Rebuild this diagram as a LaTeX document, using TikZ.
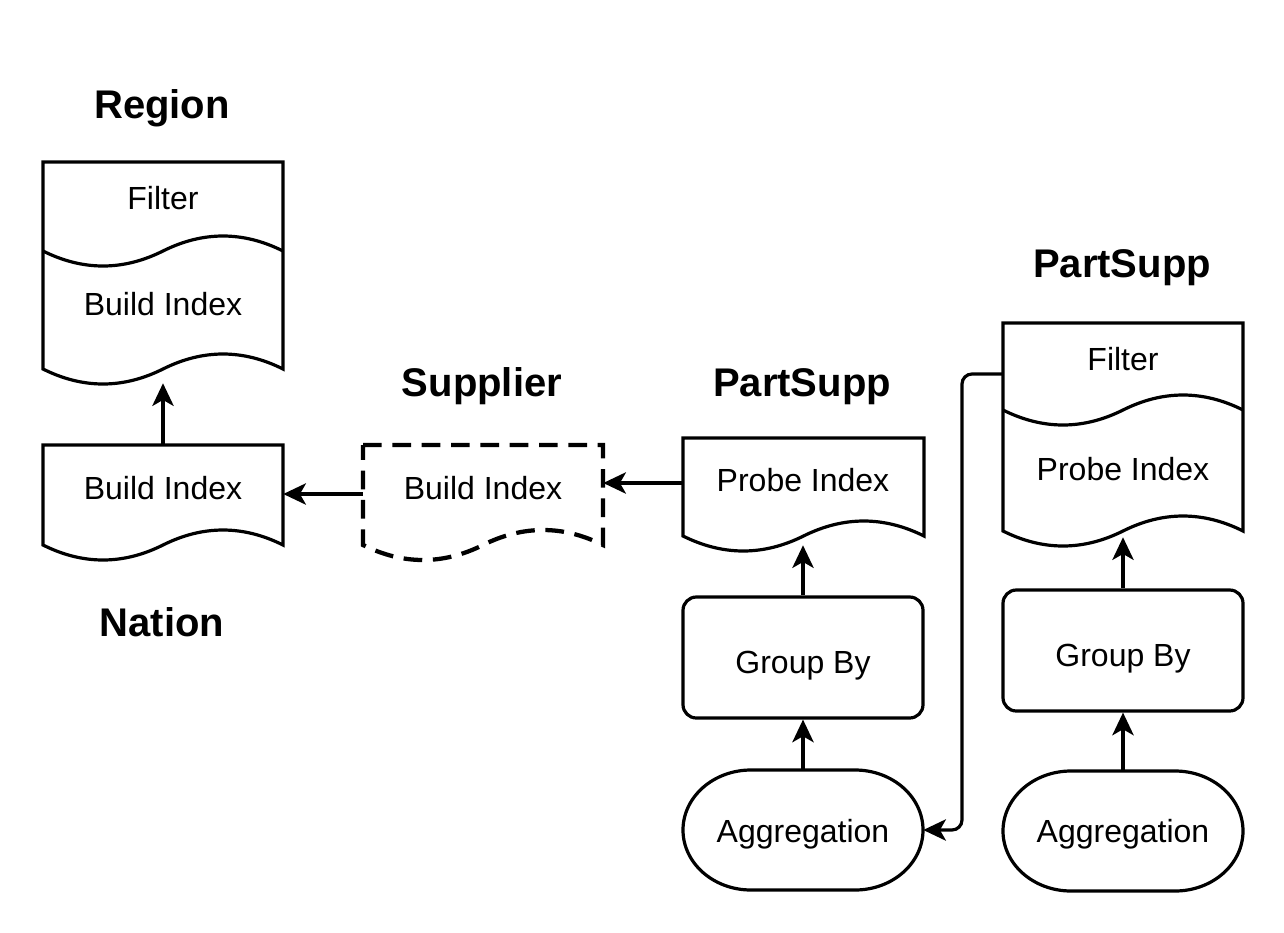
\documentclass[tikz,border=0pt]{standalone}
\usepackage{fontspec}
\setmainfont{Liberation Sans}
\usetikzlibrary{arrows.meta,fit,calc}

% document shape: [opts]{x0}{x1}{top}{edge}{amplitude}
\newcommand\dsDoc[6][]{%
 \pgfmathsetmacro\dsM{(#2+#3)/2}%
 \pgfmathsetmacro\dsLa{#2+(#3-#2)/6}%
 \pgfmathsetmacro\dsLb{#2+(#3-#2)/3}%
 \pgfmathsetmacro\dsRa{#3-(#3-#2)/6}%
 \pgfmathsetmacro\dsRb{#3-(#3-#2)/3}%
 \pgfmathsetmacro\dsD{#5+4*#6/3}%
 \pgfmathsetmacro\dsU{#5-4*#6/3}%
 \draw[shp,#1] (#2,#4) -- (#3,#4) -- (#3,#5)
   .. controls (\dsRa,\dsU) and (\dsRb,\dsU) .. (\dsM,#5)
   .. controls (\dsLb,\dsD) and (\dsLa,\dsD) .. (#2,#5) -- cycle;
}
% wave only: {x0}{x1}{edge}{amplitude}
\newcommand\dsWave[4]{%
 \pgfmathsetmacro\dsM{(#1+#2)/2}%
 \pgfmathsetmacro\dsLa{#1+(#2-#1)/6}%
 \pgfmathsetmacro\dsLb{#1+(#2-#1)/3}%
 \pgfmathsetmacro\dsRa{#2-(#2-#1)/6}%
 \pgfmathsetmacro\dsRb{#2-(#2-#1)/3}%
 \pgfmathsetmacro\dsD{#3+4*#4/3}%
 \pgfmathsetmacro\dsU{#3-4*#4/3}%
 \draw[shp] (#1,#3) .. controls (\dsLa,\dsD) and (\dsLb,\dsD) .. (\dsM,#3)
   .. controls (\dsRb,\dsU) and (\dsRa,\dsU) .. (#2,#3);
}
% terminator: {x0}{x1}{top}
\newcommand\dsTerm[3]{%
 \pgfmathsetmacro\dsTa{#1+68}%
 \pgfmathsetmacro\dsTb{#2-68}%
 \pgfmathsetmacro\dsTc{#3+120}%
 \draw[shp] (\dsTa,#3) -- (\dsTb,#3)
   arc[start angle=90,end angle=-90,x radius=51pt,y radius=45pt]
   -- (\dsTa,\dsTc)
   arc[start angle=270,end angle=90,x radius=51pt,y radius=45pt] -- cycle;
}

\tikzset{
  shp/.style={line width=2.4pt, line join=miter},
  dashshp/.style={line width=3.2pt, dash pattern=on 14pt off 8pt},
  lbl/.style={font=\fontsize{24}{28}\selectfont, inner sep=0pt, text height=17pt, text depth=0pt, anchor=center},
  ttl/.style={font=\fontsize{30}{36}\selectfont\bfseries, inner sep=0pt, text height=21.5pt, text depth=0pt, anchor=center},
  hold/.style={inner sep=0pt, draw=none},
  gbox/.style={draw, line width=2.4pt, rounded corners=10pt, minimum width=180pt, minimum height=90.75pt, inner sep=0pt},
  conn/.style={line width=2.4pt, -{Stealth[length=17pt,width=16pt,inset=4.5pt]}},
}

\begin{document}
\begin{tikzpicture}[x=0.75pt,y=-0.75pt]
\useasboundingbox (0,0) rectangle (1284,932);
\fill[white] (0,0) rectangle (1284,932);

% shapes
\dsDoc{43}{283}{162}{369}{15}
\dsWave{43}{283}{251}{15}
\dsDoc{43}{283}{445}{545}{15}
\dsDoc[dashshp]{363}{603}{445}{545}{15}
\dsDoc{683}{924}{438}{536}{15}
\dsDoc{1003}{1243}{323}{531}{15}
\dsWave{1003}{1243}{410}{15}
\dsTerm{683}{923}{770}
\dsTerm{1003}{1243}{771}

% holder nodes for connections
\node[hold, fit={(43,162) (283,383)}] (region) {};
\node[hold, fit={(43,445) (283,543)}] (nation) {};
\node[hold, fit={(363,445) (603,543)}] (supplier) {};
\node[hold, fit={(683,421) (924,545)}] (probeA) {};
\node[hold, fit={(1003,211) (1243,537)}] (probeB) {};
\node[hold, fit={(683,770) (923,890)}] (aggA) {};
\node[hold, fit={(1003,771) (1243,891)}] (aggB) {};
\node[gbox] (gbA) at (803,657.5) {};
\node[gbox] (gbB) at (1123,650.5) {};
\coordinate (bend) at (962,830);

% labels
\node[lbl] (tRF) at (163,198) {Filter};
\node[lbl] (tRB) at (163,304) {Build Index};
\node[lbl] (tNB) at (163,488) {Build Index};
\node[lbl] (tSB) at (483,488) {Build Index};
\node[lbl] (tPA) at (803,480) {Probe Index};
\node[lbl] (tFB) at (1123,359) {Filter};
\node[lbl] (tPB) at (1123,469) {Probe Index};
\node[lbl] (tGA) at (803,662) {Group By};
\node[lbl] (tGB) at (1123,655) {Group By};
\node[lbl] (tAA) at (803,831) {Aggregation};
\node[lbl] (tAB) at (1123,831) {Aggregation};

% titles
\node[ttl] (hRegion) at (162,104) {Region};
\node[ttl] (hNation) at (162,622) {Nation};
\node[ttl] (hSupplier) at (482,382) {Supplier};
\node[ttl] (hPSA) at (802,382) {PartSupp};
\node[ttl] (hPSB) at (1122,263) {PartSupp};

% connectors
\draw[conn] (nation.north) -- (region.south);
\draw[conn] (supplier.west) -- (nation.east);
\draw[conn] (probeA.west) -- (probeA.west -| supplier.east);
\draw[conn] (aggA.north) -- (gbA.south);
\draw[conn] (gbA.north) -- (gbA.north |- probeA.south);
\draw[conn] (aggB.north) -- (gbB.south);
\draw[conn] (gbB.north) -- (gbB.north |- probeB.south);
\draw[conn, rounded corners=7.5pt] (probeB.west) -| (bend) -- (aggA.east);
\end{tikzpicture}
\end{document}
